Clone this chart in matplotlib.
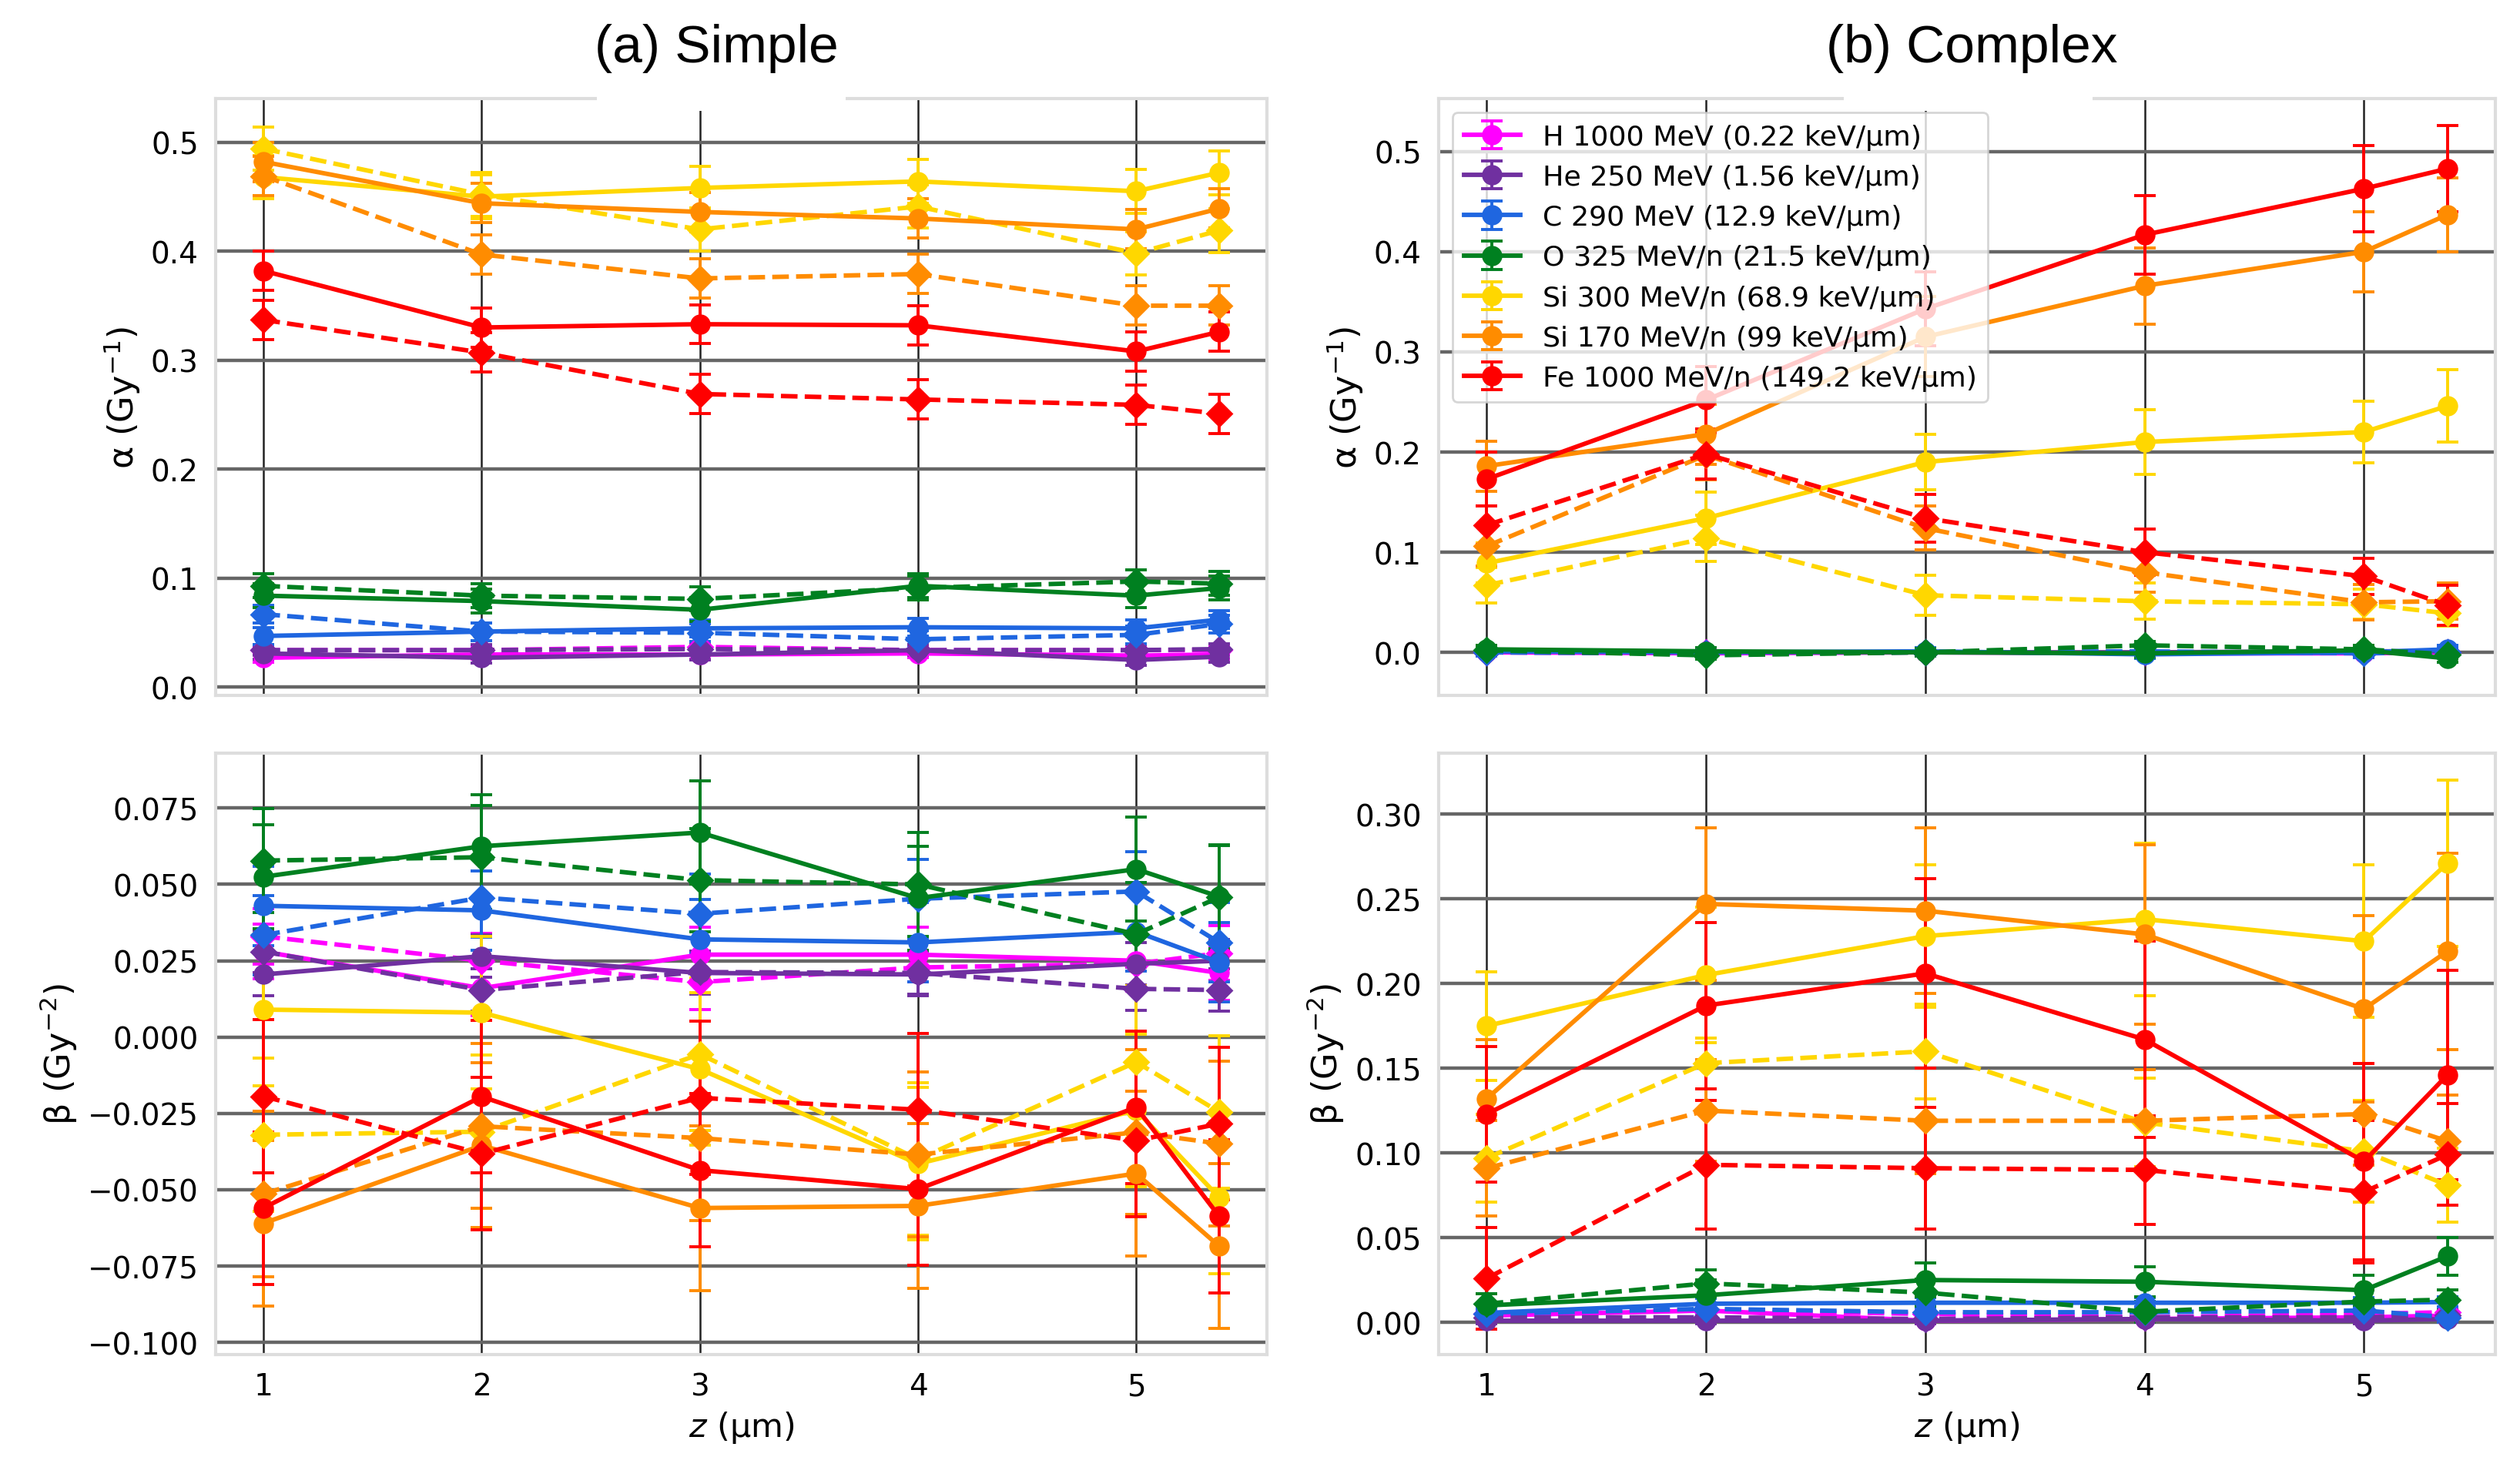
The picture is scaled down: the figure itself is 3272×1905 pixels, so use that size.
import numpy as np
import matplotlib.pyplot as plt
from matplotlib.patches import Rectangle

z = [1, 2, 3, 4, 5, 5.38]

ions = ['H 1000 MeV (0.22 keV/µm)', 'He 250 MeV (1.56 keV/µm)', 'C 290 MeV (12.9 keV/µm)',
        'O 325 MeV/n (21.5 keV/µm)', 'Si 300 MeV/n (68.9 keV/µm)', 'Si 170 MeV/n (99 keV/µm)',
        'Fe 1000 MeV/n (149.2 keV/µm)']
colors = ['#ff00ff', '#7030a0', '#1f66e0', '#008020', '#ffd700', '#ff8c00', '#ff0000']

# (a) simple - alpha
alpha_simple_solid = [
    [0.027, 0.030, 0.030, 0.031, 0.029, 0.030],
    [0.031, 0.027, 0.030, 0.034, 0.025, 0.028],
    [0.047, 0.051, 0.054, 0.055, 0.054, 0.062],
    [0.084, 0.079, 0.071, 0.093, 0.084, 0.091],
    [0.468, 0.450, 0.458, 0.464, 0.455, 0.472],
    [0.482, 0.444, 0.436, 0.430, 0.420, 0.439],
    [0.382, 0.330, 0.333, 0.332, 0.308, 0.326]]
alpha_simple_dashed = [
    [0.034, 0.034, 0.037, 0.034, 0.034, 0.034],
    [0.034, 0.034, 0.035, 0.034, 0.034, 0.035],
    [0.067, 0.051, 0.050, 0.044, 0.048, 0.058],
    [0.093, 0.084, 0.081, 0.091, 0.097, 0.095],
    [0.494, 0.452, 0.420, 0.441, 0.398, 0.419],
    [0.469, 0.397, 0.375, 0.379, 0.350, 0.350],
    [0.337, 0.307, 0.269, 0.264, 0.259, 0.251]]
alpha_simple_err = [0.004, 0.005, 0.008, 0.011, 0.020, 0.018, 0.018]

# (a) simple - beta
beta_simple_solid = [
    [0.028, 0.016, 0.027, 0.027, 0.025, 0.021],
    [0.0205, 0.0265, 0.021, 0.0205, 0.024, 0.025],
    [0.043, 0.0415, 0.032, 0.031, 0.0345, 0.0245],
    [0.0525, 0.0625, 0.067, 0.0455, 0.055, 0.046],
    [0.009, 0.008, -0.0105, -0.0415, -0.024, -0.0525],
    [-0.061, -0.0355, -0.056, -0.0553, -0.0447, -0.0685],
    [-0.056, -0.0195, -0.0436, -0.0498, -0.023, -0.0587]]
beta_simple_dashed = [
    [0.033, 0.025, 0.018, 0.0228, 0.024, 0.0275],
    [0.028, 0.0154, 0.0213, 0.021, 0.0158, 0.0154],
    [0.0334, 0.0457, 0.0404, 0.0453, 0.0477, 0.031],
    [0.0578, 0.0589, 0.0514, 0.050, 0.0337, 0.0458],
    [-0.032, -0.031, -0.0056, -0.040, -0.0082, -0.0245],
    [-0.0514, -0.0292, -0.0331, -0.0385, -0.0312, -0.0349],
    [-0.0194, -0.0382, -0.0199, -0.0238, -0.0339, -0.0284]]
beta_simple_err = [0.009, 0.007, 0.013, 0.017, 0.025, 0.027, 0.025]

# (b) complex - alpha
alpha_complex_solid = [
    [0.000, -0.001, 0.000, -0.001, -0.001, 0.000],
    [0.001, 0.000, 0.000, 0.000, 0.001, 0.001],
    [0.001, 0.000, 0.001, -0.002, 0.000, 0.003],
    [0.003, 0.001, 0.000, -0.001, 0.002, -0.006],
    [0.089, 0.134, 0.190, 0.210, 0.220, 0.246],
    [0.186, 0.218, 0.315, 0.366, 0.400, 0.437],
    [0.173, 0.252, 0.343, 0.417, 0.463, 0.483]]
alpha_complex_solid_err = [
    [0.003] * 6,
    [0.003] * 6,
    [0.004] * 6,
    [0.004] * 6,
    [0.020, 0.026, 0.028, 0.032, 0.031, 0.036],
    [0.025, 0.030, 0.040, 0.038, 0.040, 0.037],
    [0.027, 0.033, 0.037, 0.039, 0.043, 0.043]]
alpha_complex_dashed = [
    [0.000, 0.000, 0.000, 0.000, 0.000, 0.000],
    [0.000, -0.001, 0.000, 0.000, 0.000, 0.000],
    [0.000, -0.001, 0.000, 0.001, -0.001, 0.000],
    [0.002, -0.003, 0.000, 0.007, 0.003, -0.002],
    [0.067, 0.114, 0.057, 0.051, 0.048, 0.039],
    [0.106, 0.197, 0.124, 0.080, 0.050, 0.051],
    [0.127, 0.198, 0.134, 0.100, 0.076, 0.047]]
alpha_complex_dashed_err = [
    [0.003] * 6,
    [0.003] * 6,
    [0.004] * 6,
    [0.004] * 6,
    [0.018, 0.023, 0.020, 0.018, 0.015, 0.013],
    [0.020, 0.025, 0.022, 0.020, 0.018, 0.018],
    [0.019, 0.025, 0.024, 0.023, 0.018, 0.020]]

# (b) complex - beta
beta_complex_solid = [
    [0.004, 0.007, 0.001, 0.002, 0.003, 0.004],
    [0.001, 0.001, 0.001, 0.002, 0.001, 0.002],
    [0.0056, 0.011, 0.0116, 0.0116, 0.0116, 0.012],
    [0.010, 0.016, 0.025, 0.024, 0.019, 0.039],
    [0.175, 0.205, 0.228, 0.238, 0.225, 0.271],
    [0.132, 0.247, 0.243, 0.229, 0.185, 0.219],
    [0.123, 0.187, 0.206, 0.167, 0.095, 0.146]]
beta_complex_solid_err = [
    [0.002] * 6,
    [0.002] * 6,
    [0.003] * 6,
    [0.007, 0.009, 0.010, 0.009, 0.009, 0.011],
    [0.032, 0.040, 0.042, 0.045, 0.045, 0.049],
    [0.035, 0.045, 0.049, 0.053, 0.055, 0.058],
    [0.040, 0.049, 0.056, 0.058, 0.058, 0.062]]
beta_complex_dashed = [
    [0.005, 0.007, 0.005, 0.003, 0.005, 0.006],
    [0.003, 0.003, 0.002, 0.003, 0.003, 0.004],
    [0.005, 0.008, 0.006, 0.006, 0.007, 0.003],
    [0.011, 0.023, 0.0176, 0.0063, 0.0123, 0.0134],
    [0.097, 0.153, 0.160, 0.118, 0.101, 0.081],
    [0.091, 0.125, 0.119, 0.119, 0.123, 0.107],
    [0.026, 0.093, 0.091, 0.090, 0.077, 0.099]]
beta_complex_dashed_err = [
    [0.002] * 6,
    [0.002] * 6,
    [0.003] * 6,
    [0.006, 0.008, 0.008, 0.006, 0.007, 0.006],
    [0.026, 0.015, 0.028, 0.026, 0.030, 0.022],
    [0.028, 0.030, 0.031, 0.030, 0.030, 0.027],
    [0.030, 0.038, 0.036, 0.032, 0.042, 0.030]]

alpha_ticks = [0.0, 0.1, 0.2, 0.3, 0.4, 0.5]
beta_simple_ticks = [-0.1, -0.075, -0.05, -0.025, 0.0, 0.025, 0.05, 0.075]
beta_complex_ticks = [0.0, 0.05, 0.1, 0.15, 0.2, 0.25, 0.3]

plt.rcParams['font.family'] = 'DejaVu Sans'
plt.rcParams['font.size'] = 13.5

W, H = 3273, 1906
fig = plt.figure(figsize=(W / 200, H / 200), dpi=200)
ax_as = fig.add_axes([280 / W, 1 - 904 / H, 1365 / W, 775 / H])
ax_bs = fig.add_axes([280 / W, 1 - 1760 / H, 1365 / W, 781 / H])
ax_ac = fig.add_axes([1868 / W, 1 - 904 / H, 1372 / W, 775 / H])
ax_bc = fig.add_axes([1868 / W, 1 - 1760 / H, 1372 / W, 781 / H])


def draw(ax, solid, solid_err, dashed, dashed_err):
    for i in range(len(ions)):
        e1 = np.broadcast_to(solid_err[i], (len(z),))
        e2 = np.broadcast_to(dashed_err[i], (len(z),))
        ax.errorbar(z, solid[i], yerr=e1, color=colors[i], ls='-', marker='o', ms=8.5,
                    lw=2.1, elinewidth=1.4, capsize=5, capthick=1.4, label=ions[i])
        ax.errorbar(z, dashed[i], yerr=e2, color=colors[i], ls='--', marker='D', ms=8,
                    lw=2.1, elinewidth=1.4, capsize=5, capthick=1.4)


draw(ax_as, alpha_simple_solid, alpha_simple_err, alpha_simple_dashed, alpha_simple_err)
draw(ax_bs, beta_simple_solid, beta_simple_err, beta_simple_dashed, beta_simple_err)
draw(ax_ac, alpha_complex_solid, alpha_complex_solid_err, alpha_complex_dashed, alpha_complex_dashed_err)
draw(ax_bc, beta_complex_solid, beta_complex_solid_err, beta_complex_dashed, beta_complex_dashed_err)

ax_as.set_ylim(-0.0075, 0.54)
ax_bs.set_ylim(-0.104, 0.093)
ax_ac.set_ylim(-0.043, 0.553)
ax_bc.set_ylim(-0.019, 0.336)
ax_as.set_yticks(alpha_ticks)
ax_ac.set_yticks(alpha_ticks)
ax_bs.set_yticks(beta_simple_ticks)
ax_bc.set_yticks(beta_complex_ticks)

for ax in [ax_as, ax_bs, ax_ac, ax_bc]:
    ax.set_xticks([1, 2, 3, 4, 5])
    ax.set_axisbelow(True)
    ax.xaxis.grid(True, color='#222222', lw=0.9)
    ax.yaxis.grid(True, color='#666666', lw=1.6)
    ax.tick_params(length=0, pad=8, labelsize=14)
    for s in ax.spines.values():
        s.set_color('#dddddd')
        s.set_linewidth(1.5)

for ax in [ax_as, ax_ac]:
    ax.tick_params(labelbottom=False)
    ax.set_ylabel('α (Gy$^{-1}$)', fontsize=16)
for ax in [ax_bs, ax_bc]:
    ax.set_xlabel('$z$ (µm)', fontsize=15.5)
    ax.set_ylabel('β (Gy$^{-2}$)', fontsize=16)

handles, labels = ax_ac.get_legend_handles_labels()
ax_ac.legend(handles, labels, loc='upper left', fontsize=13.1, framealpha=0.8)

# white boxes behind the panel titles
for x0 in [775, 2394]:
    fig.add_artist(Rectangle((x0 / W, 1 - 145 / H), 323 / W, 145 / H, transform=fig.transFigure,
                             facecolor='white', edgecolor='none', zorder=10))
fig.text(930 / W, 1 - 63 / H, '(a) Simple', ha='center', va='center', fontsize=25,
         family='Liberation Sans', zorder=11)
fig.text(2560 / W, 1 - 63 / H, '(b) Complex', ha='center', va='center', fontsize=25,
         family='Liberation Sans', zorder=11)

fig.savefig('out.png', dpi=200, facecolor='white')
